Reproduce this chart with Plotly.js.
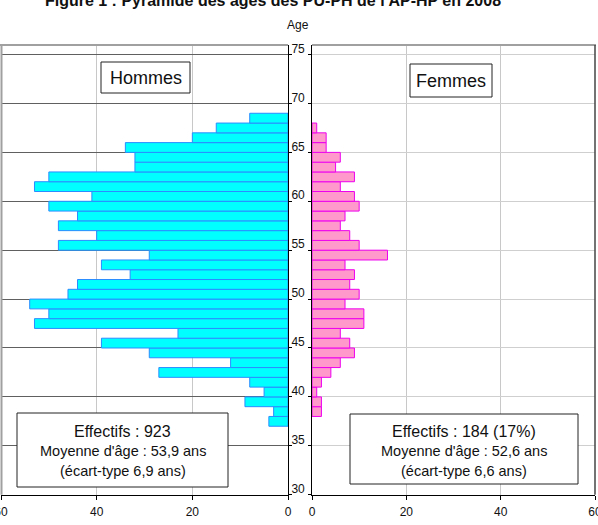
<!DOCTYPE html>
<html>
<head>
<meta charset="utf-8">
<script src="https://cdn.plot.ly/plotly-3.0.1.min.js"></script>
<style>html,body{margin:0;padding:0;background:#fff;}</style>
</head>
<body>
<div id="chart" style="width:598px;height:525px"></div>
<script>
// Age pyramid of PU-PH staff, 2008: head count per year of age
const ages   = [37, 38, 39, 40, 41, 42, 43, 44, 45, 46, 47, 48, 49, 50, 51, 52,
                53, 54, 55, 56, 57, 58, 59, 60, 61, 62, 63, 64, 65, 66, 67, 68];
const hommes = [4, 3, 9, 5, 8, 27, 12, 29, 39, 23, 53, 50, 54, 46, 44, 33,
                39, 29, 48, 40, 48, 44, 50, 41, 53, 50, 32, 32, 34, 20, 15, 8];
const femmes = [null, 2, 2, 1, 2, 4, 6, 9, 8, 6, 11, 11, 7, 10, 8, 9,
                7, 16, 10, 8, 6, 7, 10, 9, 6, 9, 5, 6, 3, 3, 1, null];

const xTicks = [0, 20, 40, 60];
const yTicks = [30, 35, 40, 45, 50, 55, 60, 65, 70, 75];

const titleText = "Figure 1 : Pyramide des âges des PU-PH de l'AP-HP en 2008";
const statsHommes = ["Effectifs : 923", "Moyenne d'âge : 53,9 ans", "(écart-type 6,9 ans)"];
const statsFemmes = ["Effectifs : 184 (17%)", "Moyenne d'âge : 52,6 ans", "(écart-type 6,6 ans)"];

// pixel -> paper helpers for a 598x525 canvas with no margins
const W = 598, H = 525;
const px = v => v / W;
const py = v => 1 - v / H;

const FONT = "Liberation Sans, Arial, sans-serif";
const yRange = [30, 75.98];
const yDomain = [py(494.7), py(45)];

const traces = [
  {
    type: "bar", orientation: "h", name: "Hommes",
    x: hommes, y: ages, offset: 0, width: 1,
    xaxis: "x", yaxis: "y",
    marker: {color: "#00ffff", line: {color: "#2a8cff", width: 1}},
    hoverinfo: "x+y"
  },
  {
    type: "bar", orientation: "h", name: "Femmes",
    x: femmes, y: ages, offset: 0, width: 1,
    xaxis: "x2", yaxis: "y2",
    marker: {color: "#ff99cc", line: {color: "#ee00ee", width: 1}},
    hoverinfo: "x+y"
  }
];

const axisCommon = {
  showline: true, linecolor: "#000", linewidth: 1,
  ticks: "outside", tickcolor: "#000", ticklen: 4,
  tickfont: {family: FONT, size: 12, color: "#111"},
  zeroline: false, fixedrange: true
};

const shapes = [
  // panel top borders
  {type: "line", xref: "paper", yref: "paper", x0: px(0), x1: px(288), y0: py(45), y1: py(45),
   line: {color: "#a0a0a0", width: 2}},
  {type: "line", xref: "paper", yref: "paper", x0: px(312), x1: px(596), y0: py(45), y1: py(45),
   line: {color: "#a0a0a0", width: 2}},
  // outer side borders
  {type: "line", xref: "paper", yref: "paper", x0: px(1.5), x1: px(1.5), y0: py(45), y1: py(494.7),
   line: {color: "#a0a0a0", width: 2}},
  {type: "line", xref: "paper", yref: "paper", x0: px(595), x1: px(595), y0: py(45), y1: py(494.7),
   line: {color: "#444", width: 1.5}},
  // label boxes
  {type: "rect", xref: "paper", yref: "paper", x0: px(101), x1: px(190), y0: py(93), y1: py(62),
   fillcolor: "#fff", line: {color: "#222", width: 1}, layer: "above"},
  {type: "rect", xref: "paper", yref: "paper", x0: px(410), x1: px(492), y0: py(97), y1: py(64),
   fillcolor: "#fff", line: {color: "#222", width: 1}, layer: "above"},
  {type: "rect", xref: "paper", yref: "paper", x0: px(17), x1: px(228), y0: py(487), y1: py(413),
   fillcolor: "#fff", line: {color: "#222", width: 1}, layer: "above"},
  {type: "rect", xref: "paper", yref: "paper", x0: px(350), x1: px(578), y0: py(484), y1: py(414),
   fillcolor: "#fff", line: {color: "#222", width: 1}, layer: "above"}
];

function label(text, x, y, size) {
  return {text: text, xref: "paper", yref: "paper", x: px(x), y: py(y),
          xanchor: "center", yanchor: "middle", showarrow: false,
          font: {family: FONT, size: size, color: "#111"}};
}

const annotations = [
  label("Age", 298, 25, 12),
  label("Hommes", 145.5, 78, 18),
  label("Femmes", 451, 81, 18),
  label(statsHommes[0], 122.5, 431, 16),
  label(statsHommes[1], 122.5, 451, 14.5),
  label(statsHommes[2], 122.5, 471, 14.5),
  label(statsFemmes[0], 464, 431, 16),
  label(statsFemmes[1], 464, 451, 14.5),
  label(statsFemmes[2], 464, 471, 14.5)
];

const layout = {
  width: W, height: H,
  margin: {l: 0, r: 0, t: 0, b: 0},
  paper_bgcolor: "#fff", plot_bgcolor: "#fff",
  showlegend: false,
  bargap: 0,
  font: {family: FONT, color: "#111"},
  title: {
    text: "<b>" + titleText + "</b>",
    font: {family: FONT, size: 16, color: "#111"},
    x: px(273), xanchor: "center",
    y: 1, yanchor: "middle"
  },
  xaxis: Object.assign({}, axisCommon, {
    domain: [px(1), px(288)], range: [60, 0], anchor: "y",
    tickvals: xTicks, showgrid: true, gridcolor: "#c8c8c8", gridwidth: 1,
    ticklabelstandoff: 2, ticklabeloverflow: "allow"
  }),
  yaxis: Object.assign({}, axisCommon, {
    domain: yDomain, range: yRange, anchor: "x", side: "right",
    tickvals: yTicks, ticklen: 3, showgrid: true, gridcolor: "#606060", gridwidth: 1,
    ticklabelshift: -6, ticklabelstandoff: -3
  }),
  xaxis2: Object.assign({}, axisCommon, {
    domain: [px(312), px(595)], range: [0, 60], anchor: "y2",
    tickvals: xTicks, showgrid: true, gridcolor: "#c8c8c8", gridwidth: 1,
    ticklabelstandoff: 2, ticklabeloverflow: "allow"
  }),
  yaxis2: Object.assign({}, axisCommon, {
    domain: yDomain, range: yRange, anchor: "x2", side: "left",
    tickvals: yTicks, ticklen: 3, showticklabels: false,
    showgrid: true, gridcolor: "#cfcfcf", gridwidth: 1
  }),
  shapes: shapes,
  annotations: annotations
};

Plotly.newPlot("chart", traces, layout, {staticPlot: true, displayModeBar: false});
</script>
</body>
</html>
